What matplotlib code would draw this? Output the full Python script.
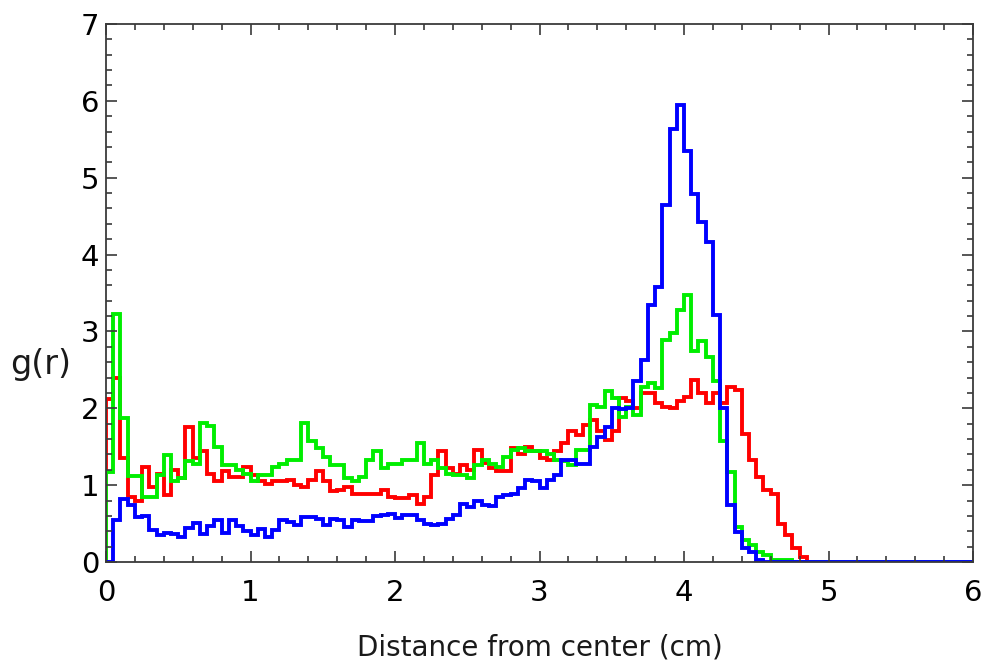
import numpy as np
import matplotlib
matplotlib.use("Agg")
import matplotlib.pyplot as plt
from matplotlib.ticker import MultipleLocator

# Histogram bins of radial distance (cm), width 0.05 from 0 to 6
bin_edges = np.round(np.arange(0, 6.0001, 0.05), 3)

g_blue = [
    0.00, 0.54, 0.82, 0.74, 0.59, 0.60, 0.42, 0.35, 0.38, 0.37,
    0.32, 0.44, 0.51, 0.37, 0.47, 0.54, 0.38, 0.54, 0.47, 0.40,
    0.35, 0.43, 0.32, 0.42, 0.55, 0.52, 0.48, 0.58, 0.59, 0.56,
    0.48, 0.56, 0.54, 0.46, 0.55, 0.53, 0.53, 0.60, 0.61, 0.63,
    0.57, 0.61, 0.61, 0.55, 0.50, 0.48, 0.50, 0.56, 0.61, 0.75,
    0.71, 0.79, 0.74, 0.73, 0.85, 0.87, 0.89, 0.96, 1.07, 1.05,
    0.96, 1.07, 1.13, 1.33, 1.33, 1.28, 1.28, 1.49, 1.63, 1.76,
    2.00, 1.99, 2.00, 2.35, 2.63, 3.35, 3.58, 4.65, 5.63, 5.94,
    5.35, 4.79, 4.42, 4.17, 3.22, 2.00, 0.74, 0.39, 0.18, 0.13,
    0.03, 0.00, 0.00, 0.00, 0.00, 0.00, 0.00, 0.00, 0.00, 0.00,
    0.00, 0.00, 0.00, 0.00, 0.00, 0.00, 0.00, 0.00, 0.00, 0.00,
    0.00, 0.00, 0.00, 0.00, 0.00, 0.00, 0.00, 0.00, 0.00, 0.00,
]

g_red = [
    2.12, 2.39, 1.35, 0.85, 0.80, 1.24, 0.97, 1.15, 0.87, 1.20,
    1.09, 1.76, 1.35, 1.44, 1.15, 1.05, 1.18, 1.11, 1.11, 1.24,
    1.13, 1.05, 1.02, 1.05, 1.05, 1.07, 1.00, 0.98, 1.07, 1.18,
    1.05, 0.92, 0.94, 0.98, 0.89, 0.89, 0.89, 0.89, 0.94, 0.85,
    0.83, 0.83, 0.87, 0.76, 0.85, 1.13, 1.44, 1.22, 1.15, 1.26,
    1.20, 1.46, 1.29, 1.22, 1.18, 1.18, 1.48, 1.41, 1.50, 1.44,
    1.35, 1.33, 1.44, 1.55, 1.70, 1.65, 1.78, 1.85, 1.70, 1.59,
    1.70, 2.13, 2.10, 2.00, 2.20, 2.20, 2.07, 2.02, 2.00, 2.09,
    2.15, 2.37, 2.20, 2.07, 2.20, 2.07, 2.28, 2.24, 1.67, 1.33,
    1.11, 0.94, 0.89, 0.50, 0.35, 0.18, 0.07, 0.00, 0.00, 0.00,
    0.00, 0.00, 0.00, 0.00, 0.00, 0.00, 0.00, 0.00, 0.00, 0.00,
    0.00, 0.00, 0.00, 0.00, 0.00, 0.00, 0.00, 0.00, 0.00, 0.00,
]

g_green = [
    1.17, 3.23, 1.87, 1.12, 1.12, 0.85, 0.85, 1.13, 1.39, 1.05,
    1.09, 1.32, 1.27, 1.81, 1.77, 1.50, 1.26, 1.26, 1.20, 1.15,
    1.05, 1.13, 1.13, 1.24, 1.28, 1.33, 1.33, 1.81, 1.57, 1.48,
    1.37, 1.26, 1.26, 1.09, 1.05, 1.11, 1.33, 1.44, 1.22, 1.28,
    1.28, 1.33, 1.33, 1.55, 1.28, 1.33, 1.22, 1.15, 1.13, 1.13,
    1.09, 1.26, 1.33, 1.28, 1.23, 1.37, 1.46, 1.48, 1.44, 1.44,
    1.44, 1.41, 1.33, 1.31, 1.26, 1.46, 1.46, 2.04, 2.02, 2.22,
    2.13, 1.89, 2.02, 1.91, 2.28, 2.33, 2.26, 2.89, 2.98, 3.28,
    3.48, 2.74, 2.87, 2.67, 2.35, 1.57, 1.17, 0.46, 0.28, 0.22,
    0.13, 0.09, 0.03, 0.02, 0.02, 0.00, 0.00, 0.00, 0.00, 0.00,
    0.00, 0.00, 0.00, 0.00, 0.00, 0.00, 0.00, 0.00, 0.00, 0.00,
    0.00, 0.00, 0.00, 0.00, 0.00, 0.00, 0.00, 0.00, 0.00, 0.00,
]

x_ticks = [0, 1, 2, 3, 4, 5, 6]
y_ticks = [0, 1, 2, 3, 4, 5, 6, 7]

fig = plt.figure(figsize=(9.83, 6.63), dpi=100)
ax = fig.add_axes([106 / 983, 101 / 663, 867 / 983, 538 / 663])

lw = 2.8
for vals, col in [(g_red, "#ff0000"), (g_green, "#00ee00"), (g_blue, "#0000ff")]:
    st = ax.stairs(vals, bin_edges, color=col, linewidth=lw, baseline=0)
    st.set_joinstyle("miter")
    st.set_capstyle("butt")

ax.set_xlim(0, 6)
ax.set_ylim(0, 7)
ax.set_xticks(x_ticks)
ax.set_yticks(y_ticks)
ax.xaxis.set_minor_locator(MultipleLocator(0.2))
ax.yaxis.set_minor_locator(MultipleLocator(0.2))

for sp in ax.spines.values():
    sp.set_linewidth(1.3)
    sp.set_color("#3a3a3a")

ax.tick_params(which="both", direction="in", top=True, right=True,
               color="#3a3a3a", width=1.2)
ax.tick_params(which="major", length=8, labelsize=21)
ax.tick_params(which="minor", length=4.5)
ax.tick_params(axis="x", which="major", pad=12)
ax.tick_params(axis="y", which="major", pad=5)

ax.set_xlabel("Distance from center (cm)", fontsize=20, color="#1a1a1a")
ax.xaxis.set_label_coords(0.5, -0.132)
ax.set_ylabel("g(r)", fontsize=24, rotation=0, ha="center", va="center",
              color="#1a1a1a")
ax.yaxis.set_label_coords(-0.075, 0.368)

fig.savefig("out.png", dpi=100)
